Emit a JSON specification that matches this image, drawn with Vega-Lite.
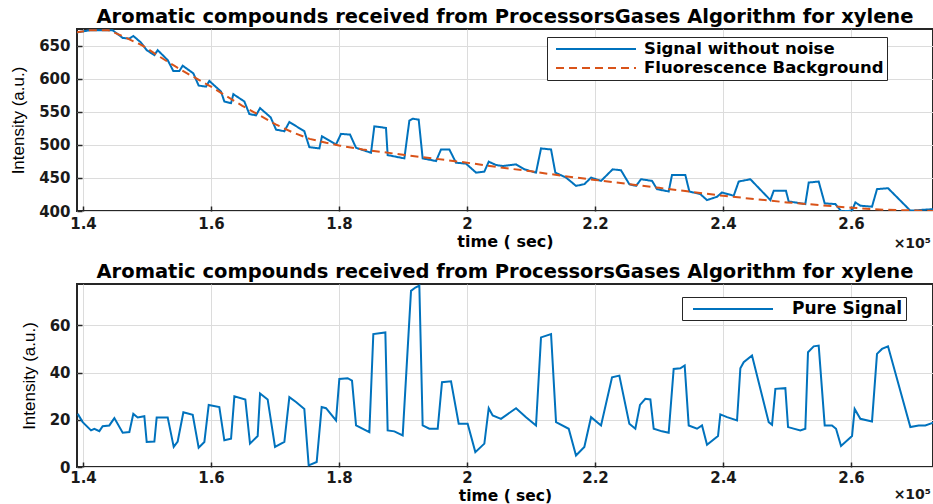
{
  "$schema": "https://vega.github.io/schema/vega-lite/v6.json",
  "background": "white",
  "padding": {"left": 8, "top": 5, "right": 2, "bottom": 0},
  "spacing": 8,
  "config": {
    "font": "DejaVu Sans",
    "view": {"stroke": "#262626", "strokeWidth": 2},
    "title": {"font": "DejaVu Sans", "fontSize": 19.5, "fontWeight": "bold", "color": "#000000", "offset": 2, "anchor": "middle"},
    "axis": {
      "grid": true, "gridColor": "#dcdcdc", "gridWidth": 1,
      "domain": false, "labelOverlap": false,
      "ticks": true, "tickColor": "#262626", "tickSize": -5, "tickWidth": 1.5,
      "labelFont": "DejaVu Sans", "labelFontWeight": "bold", "labelFontSize": 15, "labelColor": "#1a1a1a",
      "titleColor": "#000000"
    },
    "axisX": {"labelPadding": 10, "titleFont": "DejaVu Sans", "titleFontWeight": "bold", "titleFontSize": 16, "titlePadding": 2},
    "axisY": {"labelPadding": 12, "titleFont": "Liberation Sans", "titleFontWeight": "normal", "titleFontSize": 17, "titlePadding": 11},
    "legend": {
      "strokeColor": "#262626", "fillColor": "white", "padding": 3, "cornerRadius": 0,
      "labelFont": "DejaVu Sans", "labelFontWeight": "bold", "labelFontSize": 16.5, "labelColor": "#000000", "labelLimit": 0,
      "symbolType": "M-5,0H5", "symbolSize": 256, "symbolStrokeWidth": 2, "rowPadding": 1
    }
  },
  "datasets": {
    "top": [
      {"t": 138900, "v": 669.5, "series": "Signal without noise"},
      {"t": 140990, "v": 673, "series": "Signal without noise"},
      {"t": 144640, "v": 673, "series": "Signal without noise"},
      {"t": 146200, "v": 661.5, "series": "Signal without noise"},
      {"t": 147240, "v": 660.5, "series": "Signal without noise"},
      {"t": 147860, "v": 664.5, "series": "Signal without noise"},
      {"t": 149060, "v": 654.5, "series": "Signal without noise"},
      {"t": 149950, "v": 643, "series": "Signal without noise"},
      {"t": 151150, "v": 635.5, "series": "Signal without noise"},
      {"t": 151670, "v": 643, "series": "Signal without noise"},
      {"t": 153230, "v": 628, "series": "Signal without noise"},
      {"t": 154110, "v": 611.5, "series": "Signal without noise"},
      {"t": 155050, "v": 611.5, "series": "Signal without noise"},
      {"t": 155570, "v": 619.5, "series": "Signal without noise"},
      {"t": 157240, "v": 608, "series": "Signal without noise"},
      {"t": 158070, "v": 589.5, "series": "Signal without noise"},
      {"t": 159220, "v": 588, "series": "Signal without noise"},
      {"t": 159740, "v": 596.5, "series": "Signal without noise"},
      {"t": 161560, "v": 580.5, "series": "Signal without noise"},
      {"t": 162080, "v": 565.5, "series": "Signal without noise"},
      {"t": 163130, "v": 563, "series": "Signal without noise"},
      {"t": 163490, "v": 576.5, "series": "Signal without noise"},
      {"t": 165210, "v": 565.5, "series": "Signal without noise"},
      {"t": 165990, "v": 546.5, "series": "Signal without noise"},
      {"t": 167030, "v": 544.5, "series": "Signal without noise"},
      {"t": 167660, "v": 555.5, "series": "Signal without noise"},
      {"t": 169320, "v": 541.5, "series": "Signal without noise"},
      {"t": 170160, "v": 523, "series": "Signal without noise"},
      {"t": 171460, "v": 520.5, "series": "Signal without noise"},
      {"t": 172240, "v": 534.5, "series": "Signal without noise"},
      {"t": 174580, "v": 520.5, "series": "Signal without noise"},
      {"t": 175360, "v": 496.5, "series": "Signal without noise"},
      {"t": 176930, "v": 494.5, "series": "Signal without noise"},
      {"t": 177340, "v": 513, "series": "Signal without noise"},
      {"t": 179530, "v": 500.5, "series": "Signal without noise"},
      {"t": 180310, "v": 516.5, "series": "Signal without noise"},
      {"t": 181720, "v": 515.5, "series": "Signal without noise"},
      {"t": 182660, "v": 495.5, "series": "Signal without noise"},
      {"t": 185000, "v": 488, "series": "Signal without noise"},
      {"t": 185520, "v": 528, "series": "Signal without noise"},
      {"t": 187340, "v": 525.5, "series": "Signal without noise"},
      {"t": 187600, "v": 484.5, "series": "Signal without noise"},
      {"t": 190210, "v": 479.5, "series": "Signal without noise"},
      {"t": 190990, "v": 536.5, "series": "Signal without noise"},
      {"t": 191510, "v": 539.5, "series": "Signal without noise"},
      {"t": 192450, "v": 538, "series": "Signal without noise"},
      {"t": 193070, "v": 479.5, "series": "Signal without noise"},
      {"t": 195160, "v": 475.5, "series": "Signal without noise"},
      {"t": 195940, "v": 493, "series": "Signal without noise"},
      {"t": 197240, "v": 493, "series": "Signal without noise"},
      {"t": 198280, "v": 473, "series": "Signal without noise"},
      {"t": 199840, "v": 471.5, "series": "Signal without noise"},
      {"t": 201410, "v": 458, "series": "Signal without noise"},
      {"t": 202710, "v": 459.5, "series": "Signal without noise"},
      {"t": 203390, "v": 474.5, "series": "Signal without noise"},
      {"t": 204530, "v": 469.5, "series": "Signal without noise"},
      {"t": 205570, "v": 468, "series": "Signal without noise"},
      {"t": 207660, "v": 470.5, "series": "Signal without noise"},
      {"t": 208960, "v": 463, "series": "Signal without noise"},
      {"t": 210780, "v": 458, "series": "Signal without noise"},
      {"t": 211560, "v": 494.5, "series": "Signal without noise"},
      {"t": 213130, "v": 493, "series": "Signal without noise"},
      {"t": 213800, "v": 458, "series": "Signal without noise"},
      {"t": 215470, "v": 450.5, "series": "Signal without noise"},
      {"t": 217030, "v": 438, "series": "Signal without noise"},
      {"t": 218330, "v": 440.5, "series": "Signal without noise"},
      {"t": 219380, "v": 450.5, "series": "Signal without noise"},
      {"t": 220940, "v": 445.5, "series": "Signal without noise"},
      {"t": 222760, "v": 463, "series": "Signal without noise"},
      {"t": 224060, "v": 461.5, "series": "Signal without noise"},
      {"t": 225360, "v": 440.5, "series": "Signal without noise"},
      {"t": 226410, "v": 438, "series": "Signal without noise"},
      {"t": 227190, "v": 448, "series": "Signal without noise"},
      {"t": 228910, "v": 445.5, "series": "Signal without noise"},
      {"t": 229690, "v": 433, "series": "Signal without noise"},
      {"t": 231510, "v": 429.5, "series": "Signal without noise"},
      {"t": 232030, "v": 454.5, "series": "Signal without noise"},
      {"t": 234110, "v": 454.5, "series": "Signal without noise"},
      {"t": 234740, "v": 429.5, "series": "Signal without noise"},
      {"t": 236460, "v": 425.5, "series": "Signal without noise"},
      {"t": 237500, "v": 416.5, "series": "Signal without noise"},
      {"t": 239060, "v": 421.5, "series": "Signal without noise"},
      {"t": 239840, "v": 428, "series": "Signal without noise"},
      {"t": 241670, "v": 423, "series": "Signal without noise"},
      {"t": 242450, "v": 444.5, "series": "Signal without noise"},
      {"t": 244270, "v": 448, "series": "Signal without noise"},
      {"t": 247400, "v": 416.5, "series": "Signal without noise"},
      {"t": 247920, "v": 430.5, "series": "Signal without noise"},
      {"t": 249840, "v": 430.5, "series": "Signal without noise"},
      {"t": 250260, "v": 414.5, "series": "Signal without noise"},
      {"t": 252860, "v": 410.5, "series": "Signal without noise"},
      {"t": 253390, "v": 443, "series": "Signal without noise"},
      {"t": 254950, "v": 444.5, "series": "Signal without noise"},
      {"t": 255890, "v": 411.5, "series": "Signal without noise"},
      {"t": 257550, "v": 410.5, "series": "Signal without noise"},
      {"t": 258490, "v": 399.5, "series": "Signal without noise"},
      {"t": 260160, "v": 400.5, "series": "Signal without noise"},
      {"t": 260680, "v": 413, "series": "Signal without noise"},
      {"t": 261460, "v": 408, "series": "Signal without noise"},
      {"t": 263280, "v": 406.5, "series": "Signal without noise"},
      {"t": 264060, "v": 433, "series": "Signal without noise"},
      {"t": 265780, "v": 434.5, "series": "Signal without noise"},
      {"t": 269270, "v": 400.5, "series": "Signal without noise"},
      {"t": 273070, "v": 403, "series": "Signal without noise"},
      {"t": 138900, "v": 670, "series": "Fluorescence Background"},
      {"t": 141000, "v": 673, "series": "Fluorescence Background"},
      {"t": 144000, "v": 673, "series": "Fluorescence Background"},
      {"t": 146000, "v": 665, "series": "Fluorescence Background"},
      {"t": 149300, "v": 650, "series": "Fluorescence Background"},
      {"t": 152000, "v": 633, "series": "Fluorescence Background"},
      {"t": 154500, "v": 618, "series": "Fluorescence Background"},
      {"t": 157000, "v": 604, "series": "Fluorescence Background"},
      {"t": 160000, "v": 588, "series": "Fluorescence Background"},
      {"t": 162500, "v": 573, "series": "Fluorescence Background"},
      {"t": 164900, "v": 559, "series": "Fluorescence Background"},
      {"t": 167500, "v": 545, "series": "Fluorescence Background"},
      {"t": 170100, "v": 531, "series": "Fluorescence Background"},
      {"t": 172700, "v": 519, "series": "Fluorescence Background"},
      {"t": 175400, "v": 509, "series": "Fluorescence Background"},
      {"t": 178000, "v": 503, "series": "Fluorescence Background"},
      {"t": 180000, "v": 499, "series": "Fluorescence Background"},
      {"t": 183700, "v": 493, "series": "Fluorescence Background"},
      {"t": 190000, "v": 485, "series": "Fluorescence Background"},
      {"t": 195000, "v": 479, "series": "Fluorescence Background"},
      {"t": 200000, "v": 473, "series": "Fluorescence Background"},
      {"t": 205000, "v": 466, "series": "Fluorescence Background"},
      {"t": 210000, "v": 460, "series": "Fluorescence Background"},
      {"t": 215000, "v": 453, "series": "Fluorescence Background"},
      {"t": 220000, "v": 447, "series": "Fluorescence Background"},
      {"t": 225000, "v": 441, "series": "Fluorescence Background"},
      {"t": 230000, "v": 435, "series": "Fluorescence Background"},
      {"t": 235000, "v": 429, "series": "Fluorescence Background"},
      {"t": 240000, "v": 423, "series": "Fluorescence Background"},
      {"t": 245000, "v": 418, "series": "Fluorescence Background"},
      {"t": 250000, "v": 413, "series": "Fluorescence Background"},
      {"t": 255000, "v": 409, "series": "Fluorescence Background"},
      {"t": 260000, "v": 405, "series": "Fluorescence Background"},
      {"t": 265000, "v": 402, "series": "Fluorescence Background"},
      {"t": 273000, "v": 400, "series": "Fluorescence Background"}
    ],
    "pure": [
      {"t": 139170, "v": 22.5}, {"t": 139950, "v": 19}, {"t": 141250, "v": 15.5}, {"t": 141770, "v": 16.2},
      {"t": 142550, "v": 15.2}, {"t": 143070, "v": 17.3}, {"t": 144110, "v": 17.6}, {"t": 144900, "v": 20.7},
      {"t": 146200, "v": 14.5}, {"t": 147240, "v": 14.8}, {"t": 147860, "v": 22.5}, {"t": 148540, "v": 21},
      {"t": 149580, "v": 21.5}, {"t": 149950, "v": 10.6}, {"t": 151150, "v": 10.8}, {"t": 151510, "v": 21},
      {"t": 153230, "v": 21}, {"t": 154170, "v": 8.5}, {"t": 154790, "v": 10.8}, {"t": 155680, "v": 23.2},
      {"t": 157140, "v": 22.1}, {"t": 158070, "v": 8.2}, {"t": 158960, "v": 10.6}, {"t": 159640, "v": 26.3},
      {"t": 161300, "v": 25.4}, {"t": 162080, "v": 11.3}, {"t": 163130, "v": 12}, {"t": 163650, "v": 29.9},
      {"t": 165360, "v": 28.6}, {"t": 166090, "v": 9.9}, {"t": 167290, "v": 13.1}, {"t": 167660, "v": 31.1},
      {"t": 168850, "v": 28.6}, {"t": 170000, "v": 8.5}, {"t": 171460, "v": 10.6}, {"t": 172240, "v": 29.6},
      {"t": 173280, "v": 27.5}, {"t": 174580, "v": 24.6}, {"t": 175260, "v": 0.7}, {"t": 176510, "v": 2.1},
      {"t": 177290, "v": 25.4}, {"t": 177970, "v": 24.9}, {"t": 179530, "v": 19.7}, {"t": 180050, "v": 37.3},
      {"t": 181350, "v": 37.6}, {"t": 182030, "v": 36.6}, {"t": 182660, "v": 17.6}, {"t": 184740, "v": 14.8},
      {"t": 185360, "v": 56.3}, {"t": 187240, "v": 57}, {"t": 187600, "v": 15.5}, {"t": 188650, "v": 15.1},
      {"t": 189950, "v": 13.4}, {"t": 191250, "v": 74.6}, {"t": 191930, "v": 76}, {"t": 192550, "v": 76.8},
      {"t": 193070, "v": 17.6}, {"t": 194110, "v": 16.2}, {"t": 195420, "v": 16.2}, {"t": 196090, "v": 35.9},
      {"t": 197500, "v": 36.3}, {"t": 198700, "v": 18.3}, {"t": 200100, "v": 18.3}, {"t": 201300, "v": 6.3},
      {"t": 202710, "v": 9.9}, {"t": 203390, "v": 24.9}, {"t": 204010, "v": 21.8}, {"t": 205310, "v": 20.4},
      {"t": 207660, "v": 24.9}, {"t": 209220, "v": 21.1}, {"t": 210780, "v": 17.6}, {"t": 211560, "v": 54.9},
      {"t": 213130, "v": 56.3}, {"t": 213910, "v": 19}, {"t": 215890, "v": 16.2}, {"t": 217030, "v": 4.9},
      {"t": 218330, "v": 8.5}, {"t": 219380, "v": 21.1}, {"t": 220940, "v": 17.6}, {"t": 222660, "v": 38},
      {"t": 223800, "v": 38.7}, {"t": 225360, "v": 18.3}, {"t": 226300, "v": 16.2}, {"t": 227030, "v": 26.3},
      {"t": 227860, "v": 28.9}, {"t": 228650, "v": 28.6}, {"t": 229170, "v": 16.2}, {"t": 230470, "v": 15.1},
      {"t": 231510, "v": 14.5}, {"t": 232290, "v": 41.5}, {"t": 233330, "v": 41.8}, {"t": 234010, "v": 43},
      {"t": 234640, "v": 17.6}, {"t": 235940, "v": 16.2}, {"t": 236720, "v": 17.6}, {"t": 237500, "v": 9.4},
      {"t": 239220, "v": 13.1}, {"t": 239580, "v": 22.3}, {"t": 240630, "v": 21.1}, {"t": 242190, "v": 19.7},
      {"t": 242710, "v": 41.8}, {"t": 243230, "v": 44.4}, {"t": 244530, "v": 47.2}, {"t": 247140, "v": 19},
      {"t": 247660, "v": 17.9}, {"t": 248180, "v": 33.1}, {"t": 249740, "v": 33.4}, {"t": 250160, "v": 16.9},
      {"t": 252080, "v": 15.5}, {"t": 252860, "v": 16.2}, {"t": 253280, "v": 48.6}, {"t": 254170, "v": 51.1},
      {"t": 254950, "v": 51.4}, {"t": 255890, "v": 17.6}, {"t": 257030, "v": 17.6}, {"t": 257660, "v": 16.2},
      {"t": 258440, "v": 8.9}, {"t": 260160, "v": 13.1}, {"t": 260570, "v": 24.6}, {"t": 261460, "v": 20.4},
      {"t": 263280, "v": 19.3}, {"t": 264060, "v": 47.9}, {"t": 264840, "v": 50}, {"t": 265780, "v": 51.1},
      {"t": 269270, "v": 16.9}, {"t": 270570, "v": 17.6}, {"t": 271610, "v": 17.6}, {"t": 273070, "v": 19}
    ],
    "note": [{"label": "×10⁵"}]
  },
  "resolve": {"scale": {"color": "independent", "strokeDash": "independent"}, "legend": {"color": "independent", "strokeDash": "independent"}},
  "vconcat": [
    {
      "title": "Aromatic compounds received from ProcessorsGases Algorithm for xylene",
      "width": 856,
      "height": 182,
      "layer": [
        {
          "data": {"name": "top"},
          "mark": {"type": "line", "strokeWidth": 2, "clip": true},
          "encoding": {
            "x": {"field": "t", "type": "quantitative", "scale": {"domain": [139060, 272810], "nice": false, "zero": false},
                  "axis": {"title": "time ( sec)", "values": [140000, 160000, 180000, 200000, 220000, 240000, 260000], "labelOverlap": false, "labelExpr": "format(datum.value / 100000, '~g')"}},
            "y": {"field": "v", "type": "quantitative", "scale": {"domain": [400, 675], "nice": false, "zero": false},
                  "axis": {"title": "Intensity (a.u.)", "values": [400, 450, 500, 550, 600, 650], "labelOverlap": false}},
            "color": {"field": "series", "type": "nominal",
                      "scale": {"domain": ["Signal without noise", "Fluorescence Background"], "range": ["#0072BD", "#D95319"]},
                      "legend": {"title": null, "orient": "none", "legendX": 470, "legendY": 8, "symbolOffset": 37, "labelOffset": 39}},
            "strokeDash": {"field": "series", "type": "nominal",
                           "scale": {"domain": ["Signal without noise", "Fluorescence Background"], "range": [[1, 0], [8, 5]]},
                           "legend": {"title": null, "orient": "none", "legendX": 470, "legendY": 8, "symbolOffset": 37, "labelOffset": 39}}
          }
        },
        {
          "data": {"name": "note"},
          "mark": {"type": "text", "align": "right", "baseline": "middle", "dy": 33, "dx": -2, "font": "DejaVu Sans", "fontSize": 14, "fontWeight": "bold", "color": "#1a1a1a"},
          "encoding": {
            "text": {"field": "label"},
            "x": {"datum": 272810, "type": "quantitative",
                  "axis": {"title": "time ( sec)", "values": [140000, 160000, 180000, 200000, 220000, 240000, 260000], "labelOverlap": false, "labelExpr": "format(datum.value / 100000, '~g')"}},
            "y": {"datum": 400, "type": "quantitative",
                  "axis": {"title": "Intensity (a.u.)", "values": [400, 450, 500, 550, 600, 650], "labelOverlap": false}}
          }
        }
      ]
    },
    {
      "title": "Aromatic compounds received from ProcessorsGases Algorithm for xylene",
      "width": 856,
      "height": 183,
      "layer": [
        {
          "data": {"name": "pure"},
          "mark": {"type": "line", "strokeWidth": 2, "clip": true},
          "encoding": {
            "x": {"field": "t", "type": "quantitative", "scale": {"domain": [139060, 272810], "nice": false, "zero": false},
                  "axis": {"title": "time ( sec)", "titleFontSize": 15.5, "titlePadding": 3, "labelPadding": 8, "values": [140000, 160000, 180000, 200000, 220000, 240000, 260000], "labelOverlap": false, "labelExpr": "format(datum.value / 100000, '~g')"}},
            "y": {"field": "v", "type": "quantitative", "scale": {"domain": [0, 77.5], "nice": false, "zero": false},
                  "axis": {"title": "Intensity (a.u.)", "values": [0, 20, 40, 60], "labelOverlap": false}},
            "color": {"datum": "Pure Signal", "type": "nominal", "scale": {"range": ["#0072BD"]},
                      "legend": {"title": null, "orient": "none", "legendX": 605, "legendY": 13, "symbolOffset": 39, "labelOffset": 50, "labelFontSize": 17}}
          }
        },
        {
          "data": {"name": "note"},
          "mark": {"type": "text", "align": "right", "baseline": "middle", "dy": 28, "dx": -2, "font": "DejaVu Sans", "fontSize": 14, "fontWeight": "bold", "color": "#1a1a1a"},
          "encoding": {
            "text": {"field": "label"},
            "x": {"datum": 272810, "type": "quantitative",
                  "axis": {"title": "time ( sec)", "titleFontSize": 15.5, "titlePadding": 3, "labelPadding": 8, "values": [140000, 160000, 180000, 200000, 220000, 240000, 260000], "labelOverlap": false, "labelExpr": "format(datum.value / 100000, '~g')"}},
            "y": {"datum": 0, "type": "quantitative",
                  "axis": {"title": "Intensity (a.u.)", "values": [0, 20, 40, 60], "labelOverlap": false}}
          }
        }
      ]
    }
  ]
}
